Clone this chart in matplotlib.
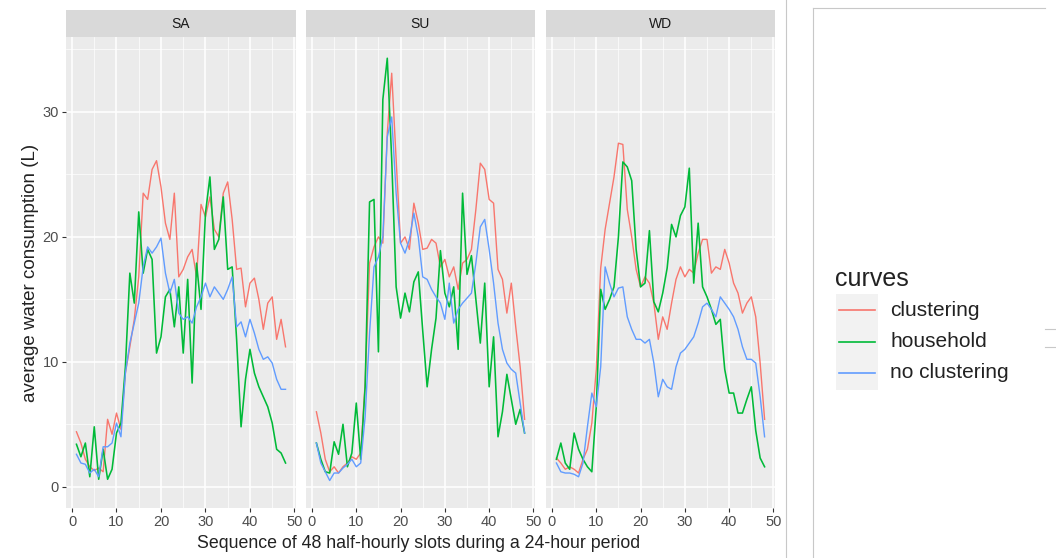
import numpy as np
import matplotlib
matplotlib.use('Agg')
import matplotlib.pyplot as plt
from matplotlib.lines import Line2D

plt.rcParams['font.family'] = ['Liberation Sans', 'DejaVu Sans']

# ── Data ──────────────────────────────────────────────────────────────────────
slots = np.arange(1, 49)
panels = ['SA', 'SU', 'WD']
curves = ['clustering', 'household', 'no clustering']

sa_clustering = [4.4, 3.5, 2.2, 1.6, 1.3, 1.5, 1.2, 5.4, 4.2, 5.9, 4.6, 9.1,
                 11.2, 13.4, 16.8, 23.5, 23.0, 25.4, 26.1, 24.0, 21.1, 19.8, 23.5, 16.8,
                 17.4, 18.4, 19.0, 16.8, 22.6, 21.6, 23.2, 20.6, 20.0, 23.5, 24.4, 21.4,
                 17.4, 17.5, 14.4, 16.3, 16.7, 15.0, 12.6, 14.7, 15.2, 11.8, 13.4, 11.2]
sa_household = [3.4, 2.4, 3.5, 0.8, 4.8, 0.6, 3.0, 0.6, 1.4, 4.3, 5.1, 9.6,
                17.1, 14.7, 22.0, 17.1, 19.0, 18.2, 10.7, 12.0, 15.2, 15.8, 12.8, 16.0,
                10.7, 16.6, 8.3, 17.9, 14.2, 21.9, 24.8, 19.0, 19.8, 23.2, 17.4, 17.6,
                11.8, 4.8, 8.6, 11.0, 9.1, 8.0, 7.2, 6.4, 5.1, 3.0, 2.7, 1.9]
sa_noclust = [2.6, 1.9, 1.8, 1.1, 1.4, 0.8, 3.2, 3.2, 3.5, 5.1, 4.0, 9.1,
              11.5, 13.1, 14.7, 17.6, 19.2, 18.7, 19.2, 19.9, 17.1, 15.5, 16.6, 13.9,
              13.4, 13.6, 13.1, 14.4, 15.2, 16.3, 15.2, 16.0, 15.5, 15.0, 15.8, 16.8,
              12.8, 13.2, 12.0, 13.4, 12.3, 11.0, 10.2, 10.4, 9.9, 8.6, 7.8, 7.8]

su_clustering = [6.0, 4.3, 2.2, 1.2, 1.6, 1.1, 1.6, 1.9, 2.4, 2.2, 2.7, 8.3,
                 17.9, 19.2, 20.0, 19.5, 28.3, 33.1, 26.2, 19.5, 20.0, 19.0, 22.7, 21.1,
                 19.0, 19.1, 19.8, 19.5, 17.6, 18.2, 16.8, 17.6, 15.8, 17.9, 18.2, 19.0,
                 22.2, 25.9, 25.4, 23.0, 22.7, 17.4, 16.6, 13.9, 16.3, 12.8, 9.6, 5.4]
su_household = [3.5, 2.2, 1.2, 1.1, 3.6, 2.6, 5.0, 1.6, 2.7, 6.7, 2.2, 8.0,
                22.8, 23.0, 10.8, 31.0, 34.3, 26.2, 16.0, 13.5, 15.5, 14.0, 16.4, 17.2,
                12.5, 8.0, 11.0, 13.5, 18.9, 15.5, 14.4, 16.0, 11.0, 23.5, 17.0, 18.5,
                15.0, 11.5, 16.3, 8.0, 12.0, 4.0, 6.0, 9.0, 7.0, 5.0, 6.2, 4.3]
su_noclust = [3.5, 1.9, 1.2, 0.5, 1.1, 1.1, 1.5, 1.8, 2.2, 1.6, 1.9, 5.6,
              12.3, 17.6, 18.4, 20.0, 28.0, 29.6, 23.5, 19.5, 18.7, 19.8, 21.9, 20.0,
              16.8, 16.6, 15.8, 15.2, 14.7, 13.4, 16.3, 13.1, 14.2, 14.7, 15.1, 15.5,
              17.9, 20.8, 21.4, 19.0, 16.3, 13.1, 11.0, 9.9, 9.4, 9.1, 6.7, 4.3]

wd_clustering = [2.3, 1.9, 1.4, 1.6, 1.4, 1.1, 2.2, 3.0, 5.1, 9.4, 17.5, 20.6,
                 22.7, 24.8, 27.5, 27.4, 22.2, 20.0, 17.4, 16.0, 16.8, 16.3, 14.7, 11.8,
                 13.6, 12.6, 14.7, 16.6, 17.6, 16.8, 17.4, 17.1, 18.7, 19.8, 19.8, 17.1,
                 17.6, 17.4, 19.0, 17.9, 16.3, 15.5, 13.9, 14.7, 15.2, 13.6, 9.9, 5.4]
wd_household = [2.2, 3.5, 1.9, 1.4, 4.3, 3.0, 2.2, 1.6, 1.2, 6.4, 15.8, 14.2,
                15.0, 16.0, 20.0, 26.0, 25.6, 24.5, 19.0, 16.0, 16.3, 20.5, 14.8, 14.0,
                15.5, 17.5, 21.0, 20.0, 21.7, 22.4, 25.5, 16.3, 21.1, 16.0, 15.2, 14.2,
                13.0, 13.4, 9.4, 7.5, 7.5, 5.9, 5.9, 7.0, 8.0, 4.5, 2.3, 1.6]
wd_noclust = [1.9, 1.2, 1.1, 1.1, 1.0, 0.8, 1.9, 4.8, 7.5, 6.4, 9.6, 17.6,
              16.3, 15.2, 15.9, 16.0, 13.6, 12.6, 11.8, 11.8, 11.5, 11.8, 9.9, 7.2,
              8.6, 8.0, 7.8, 9.6, 10.7, 11.0, 11.5, 12.0, 13.1, 14.4, 14.7, 14.2,
              13.6, 15.2, 14.7, 14.2, 13.6, 12.6, 11.2, 10.2, 10.2, 9.9, 7.2, 4.0]

series = {
    'SA': [sa_clustering, sa_household, sa_noclust],
    'SU': [su_clustering, su_household, su_noclust],
    'WD': [wd_clustering, wd_household, wd_noclust],
}

# ── Style ────────────────────────────────────────────────────────────────────
COLORS = ['#F8766D', '#00BA38', '#619CFF']
PANEL_BG = '#EBEBEB'
STRIP_BG = '#D9D9D9'
TXT = '#4D4D4D'
DARK = '#222222'

W, H = 1056, 558
fig = plt.figure(figsize=(W / 100, H / 100), dpi=100, facecolor='white')

def fbox(x0, x1, y0, y1):
    # pixel box -> figure fraction [left, bottom, width, height]
    return [x0 / W, 1 - y1 / H, (x1 - x0) / W, (y1 - y0) / H]

def fx(px):
    return px / W

def fy(py):
    return 1 - py / H

panel_x = [(66, 296), (306, 535), (546, 775)]
top, bottom = 37, 508

for i, (name, (x0, x1)) in enumerate(zip(panels, panel_x)):
    ax = fig.add_axes(fbox(x0, x1, top, bottom))
    ax.set_facecolor(PANEL_BG)
    for c, vals, col in zip(curves, series[name], COLORS):
        ax.plot(slots, vals, color=col, lw=1.0 if c != 'household' else 1.15,
                label=c, solid_joinstyle='round')
    ax.set_xlim(-1.35, 50.35)
    ax.set_ylim(-1.7, 36.0)
    ax.set_xticks([0, 10, 20, 30, 40, 50])
    ax.set_xticks([5, 15, 25, 35, 45], minor=True)
    ax.set_yticks([0, 10, 20, 30])
    ax.set_yticks([5, 15, 25, 35], minor=True)
    ax.grid(which='major', color='white', lw=1.1)
    ax.grid(which='minor', color='white', lw=0.5)
    ax.set_axisbelow(True)
    for s in ax.spines.values():
        s.set_visible(False)
    ax.tick_params(which='major', length=3, color='#333333', labelsize=10.5,
                   labelcolor=TXT, pad=2)
    ax.tick_params(which='minor', length=0)
    if i > 0:
        ax.tick_params(axis='y', labelleft=False, length=0)
    else:
        ax.set_ylabel('average water consumption (L)', fontsize=13.5,
                      color=DARK, labelpad=3)

    # facet strip
    sax = fig.add_axes(fbox(x0, x1, 10, top))
    sax.set_facecolor(STRIP_BG)
    sax.set_xticks([]); sax.set_yticks([])
    for s in sax.spines.values():
        s.set_visible(False)
    sax.text(0.5, 0.5, name, ha='center', va='center', fontsize=10,
             color='#1A1A1A', transform=sax.transAxes)

fig.text(fx(419), fy(544),
         'Sequence of 48 half-hourly slots during a 24-hour period',
         ha='center', va='center', fontsize=12.8, color=DARK)

# ── Legend (ggplot style, placed by pixel) ───────────────────────────────────
fig.text(fx(835), fy(279), 'curves', ha='left', va='center',
         fontsize=18, color=DARK)
fig.patches.append(plt.Rectangle((fx(836), fy(390)), 42 / W, 96 / H,
                                 transform=fig.transFigure, facecolor='#F2F2F2',
                                 edgecolor='none', zorder=0))
for k, (c, col) in enumerate(zip(curves, COLORS)):
    yy = fy(310 + 31.5 * k)
    fig.add_artist(Line2D([fx(839), fx(875)], [yy, yy], color=col, lw=1.2,
                          transform=fig.transFigure))
    fig.text(fx(890), yy, c, ha='left', va='center', fontsize=15, color=DARK)

# ── Screenshot frame lines ───────────────────────────────────────────────────
frame = dict(transform=fig.transFigure, color='#C8C8C8', lw=0.8)
fig.add_artist(Line2D([fx(786), fx(786)], [0, 1], **frame))
fig.add_artist(Line2D([fx(813), fx(813)], [0, fy(8)], **frame))
fig.add_artist(Line2D([fx(813), fx(1045)], [fy(8), fy(8)], **frame))
fig.add_artist(Line2D([fx(1045), fx(1056)], [fy(329), fy(329)], **frame))
fig.add_artist(Line2D([fx(1045), fx(1056)], [fy(347), fy(347)], **frame))

plt.savefig('out.png', dpi=100, facecolor='white')
